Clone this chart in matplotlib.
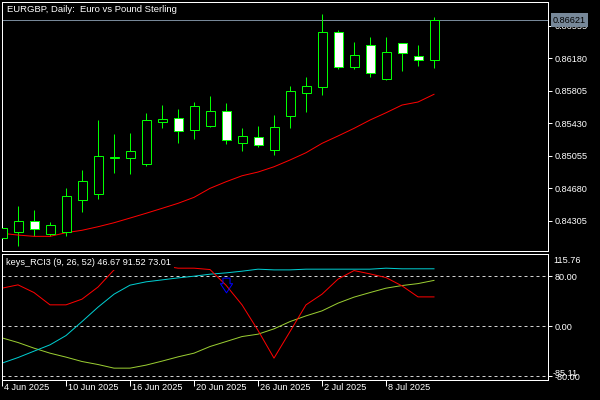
import matplotlib
matplotlib.use("Agg")
import matplotlib.pyplot as plt
from matplotlib.patches import Rectangle
from matplotlib.path import Path
from matplotlib.transforms import ScaledTranslation, blended_transform_factory

# --- data -------------------------------------------------------------
dates = [
    "4 Jun 2025", "5 Jun 2025", "6 Jun 2025", "9 Jun 2025", "10 Jun 2025",
    "11 Jun 2025", "12 Jun 2025", "13 Jun 2025", "16 Jun 2025", "17 Jun 2025",
    "18 Jun 2025", "19 Jun 2025", "20 Jun 2025", "23 Jun 2025", "24 Jun 2025",
    "25 Jun 2025", "26 Jun 2025", "27 Jun 2025", "30 Jun 2025", "1 Jul 2025",
    "2 Jul 2025", "3 Jul 2025", "4 Jul 2025", "7 Jul 2025", "8 Jul 2025",
    "9 Jul 2025", "10 Jul 2025", "11 Jul 2025",
]
opens = [0.84107, 0.84179, 0.84303, 0.84156, 0.84179, 0.84549, 0.84618, 0.85030,
         0.85033, 0.84957, 0.85449, 0.85488, 0.85356, 0.85402, 0.85569, 0.85199,
         0.85269, 0.85119, 0.85511, 0.85783, 0.85845, 0.86480, 0.86076, 0.86330,
         0.85938, 0.86353, 0.86203, 0.86157]
highs = [0.84268, 0.84476, 0.84430, 0.84291, 0.84684, 0.84891, 0.85468, 0.85307,
         0.85318, 0.85549, 0.85641, 0.85595, 0.85676, 0.85745, 0.85664, 0.85376,
         0.85399, 0.85526, 0.85860, 0.85964, 0.86691, 0.86507, 0.86368, 0.86426,
         0.86426, 0.86353, 0.86330, 0.86653]
lows = [0.84060, 0.84018, 0.84130, 0.84133, 0.84133, 0.84410, 0.84560, 0.84860,
        0.84849, 0.84941, 0.85379, 0.85206, 0.85252, 0.85393, 0.85188, 0.85114,
        0.85160, 0.85068, 0.85379, 0.85564, 0.85760, 0.86053, 0.86053, 0.85961,
        0.85935, 0.86037, 0.86088, 0.86065]
closes = [0.84222, 0.84303, 0.84214, 0.84257, 0.84591, 0.84764, 0.85053, 0.85041,
          0.85110, 0.85468, 0.85476, 0.85338, 0.85626, 0.85569, 0.85241, 0.85280,
          0.85176, 0.85384, 0.85799, 0.85857, 0.86480, 0.86076, 0.86215, 0.86007,
          0.86249, 0.86238, 0.86157, 0.86621]
ma = [0.84161, 0.84141, 0.84126, 0.84126, 0.84168, 0.84196, 0.84237, 0.84283,
      0.84337, 0.84392, 0.84449, 0.84507, 0.84576, 0.84680, 0.84756, 0.84825,
      0.84868, 0.84929, 0.85007, 0.85091, 0.85199, 0.85284, 0.85372, 0.85468,
      0.85552, 0.85641, 0.85676, 0.85765]

rci_fast = [60.6, 65.9, 53.6, 34.0, 34.0, 43.1, 62.4, 89.8, 96.7, 100.0, 96.7, 92.5,
            92.5, 90.3, 65.4, 34.0, -6.7, -51.0, -8.6, 34.0, 51.0, 75.0, 88.7, 83.4,
            77.5, 64.3, 46.7, 46.67]
rci_mid = [-59.0, -50.1, -39.9, -29.8, -15.0, 7.3, 30.3, 51.0, 65.4, 70.7, 73.8, 77.0,
           79.7, 82.9, 85.0, 87.7, 90.9, 89.8, 89.8, 90.9, 90.9, 90.9, 90.9, 90.9,
           92.5, 91.5, 91.5, 91.52]
rci_slow = [-18.7, -26.1, -35.1, -43.1, -49.4, -56.4, -61.2, -67.0, -67.0, -62.2, -55.8,
            -49.0, -43.1, -32.5, -24.6, -16.6, -12.8, -4.3, 7.3, 16.4, 24.4, 36.7, 46.3,
            53.6, 60.6, 64.8, 67.9, 73.01]
sell_bars = [14]
sell_values = [65.9]

price_ticks = [0.86555, 0.86180, 0.85805, 0.85430, 0.85055, 0.84680, 0.84305]
rci_levels = [80, 0, -80]
rci_min, rci_max = -85.11, 115.76
last_price = closes[-1]

# --- figure -----------------------------------------------------------
plt.rcParams["font.family"] = ["Liberation Sans", "DejaVu Sans"]
FS = 6.6
W, H = 600, 400
PX = 0.72  # 1 pixel in points

fig = plt.figure(figsize=(6, 4), dpi=100, facecolor="black")


def axes_px(left, top, right, bottom, **kw):
    return fig.add_axes([left / W, 1 - bottom / H, (right - left) / W, (bottom - top) / H], **kw)


ax = axes_px(2, 2, 548, 251)
ax2 = axes_px(2, 253.6, 548, 379.5, sharex=ax)

for a in (ax, ax2):
    a.set_facecolor("black")
    for s in a.spines.values():
        s.set_color("white")
        s.set_linewidth(PX)

xs = list(range(len(closes)))
ax.set_xlim(0, 34.125)
ax.set_ylim(0.83957, 0.86830)

# candles
lime = "#00ff00"
body_w = 0.5625
ax.axhline(last_price, color="#778899", lw=PX, zorder=1)
ax.vlines(xs, lows, highs, color=lime, lw=PX, zorder=2)
for i in xs:
    o, c = opens[i], closes[i]
    face = "white" if c < o else "black"
    ax.add_patch(Rectangle((i - body_w / 2, min(o, c)), body_w, abs(c - o),
                           facecolor=face, edgecolor=lime, lw=PX, zorder=3))
ax.plot(xs, ma, color="red", lw=PX, zorder=2.5)

ax.yaxis.tick_right()
ax.set_yticks(price_ticks)
ax.set_yticklabels([f"{v:.5f}" for v in price_ticks])
ax.tick_params(axis="y", colors="white", labelsize=FS, length=3, width=PX, pad=1.5)
ax.tick_params(axis="x", bottom=False, labelbottom=False)

# current price tag sits on top of the nearest tick label, as in the terminal
ax.text(1.0 + 5 / 546, last_price, f"{last_price:.5f}", transform=ax.get_yaxis_transform(),
        ha="left", va="center", fontsize=FS, color="black", clip_on=False, zorder=10,
        bbox=dict(facecolor="#778899", edgecolor="none", pad=1.6))
ax.text(5 / 546, 1 - 8 / 249, "EURGBP, Daily:  Euro vs Pound Sterling", transform=ax.transAxes,
        ha="left", va="center", fontsize=FS + 0.2, color="white")

# RCI sub window
ax2.set_ylim(rci_min, rci_max)
for lv in rci_levels:
    ax2.axhline(lv, color="#d0d0d0", lw=PX, linestyle=(0, (3, 3)), zorder=1)
ax2.plot(xs, rci_slow, color="#9acd32", lw=PX, zorder=2)
ax2.plot(xs, rci_mid, color="#00ced1", lw=PX, zorder=2)
ax2.plot(xs, rci_fast, color="red", lw=PX, zorder=2)

arrow = Path([(-3.5, 7.25), (3.5, 7.25), (3.5, 1.75), (6, 1.75), (0, -7.25),
              (-6, 1.75), (-3.5, 1.75), (-3.5, 7.25)],
             [Path.MOVETO] + [Path.LINETO] * 6 + [Path.CLOSEPOLY])
ax2.plot(sell_bars, sell_values, linestyle="none", marker=arrow, markersize=10.6,
         markerfacecolor="none", markeredgecolor="#0000ff", markeredgewidth=PX, zorder=4)

ax2.text(4 / 546, 1 - 8.7 / 125.9,
         f"keys_RCI3 (9, 26, 52) {rci_fast[-1]:.2f} {rci_mid[-1]:.2f} {rci_slow[-1]:.2f}",
         transform=ax2.transAxes, ha="left", va="center", fontsize=FS, color="white", zorder=5,
         bbox=dict(facecolor="black", edgecolor="none", pad=2.2))

ax2.yaxis.tick_right()
ax2.set_yticks(rci_levels)
ax2.set_yticklabels([f"{v:.2f}" for v in rci_levels])
ax2.tick_params(axis="y", colors="white", labelsize=FS, length=3, width=PX, pad=1.5)
ytr = ax2.get_yaxis_transform()
ax2.text(1.0 + 5 / 546, rci_max, f"{rci_max:.2f}", transform=ytr + ScaledTranslation(0, -2 / 100, fig.dpi_scale_trans),
         ha="left", va="top", fontsize=FS, color="white", clip_on=False)
# min label overlaps the -80 label in the original terminal screenshot
ax2.text(1.0 + 5 / 546, rci_min, f"{rci_min:.2f}", transform=ytr + ScaledTranslation(0, 1 / 100, fig.dpi_scale_trans),
         ha="left", va="bottom", fontsize=FS, color="white", clip_on=False)

tick_idx = xs[::4][:7]
ax2.set_xticks(tick_idx)
ax2.set_xticklabels([])
ax2.tick_params(axis="x", colors="white", length=4, width=PX, pad=0)
xtr = blended_transform_factory(ax2.transData, ax2.transAxes) + ScaledTranslation(2 / 100, -4 / 100, fig.dpi_scale_trans)
for i in tick_idx:
    ax2.text(i, 0, dates[i], transform=xtr, ha="left", va="top", fontsize=FS,
             color="white", clip_on=False)

fig.savefig("out.png", dpi=100, facecolor="black")
